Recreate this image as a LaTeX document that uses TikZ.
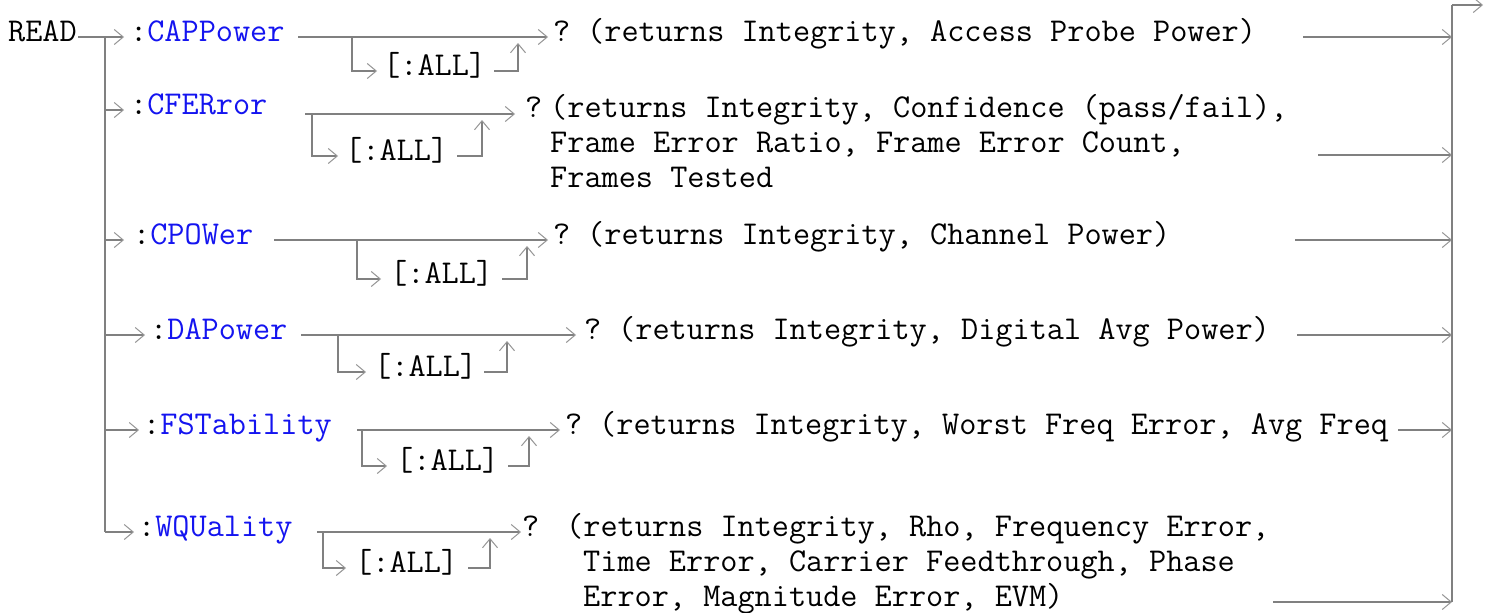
\documentclass[tikz,border=0pt]{standalone}
\usepackage{fontspec}
\usetikzlibrary{arrows.meta}
\definecolor{linegray}{RGB}{128,128,128}
\definecolor{tipgray}{RGB}{150,150,150}
\definecolor{cmdblue}{RGB}{20,20,240}
\tikzset{
  txt/.style={inner sep=0pt, anchor=base west, font=\fontsize{33.3}{39}\selectfont\ttfamily},
  conn/.style={draw=linegray, line width=1.8pt},
  arr/.style={conn, -{Straight Barb[length=9pt,width=15pt,line width=1pt,color=tipgray]}},
}
\newcommand{\cmdname}[1]{:{\color{cmdblue}#1}}
\begin{document}
\begin{tikzpicture}[x=1pt,y=-1pt]
\useasboundingbox (0,0) rectangle (1497,613);
\fill[white] (0,0) rectangle (1497,613);

% ---------- text nodes ----------
\node[txt] (read) at (8,41) {READ};

\node[txt] (c1) at (130,41) {\cmdname{CAPPower}};
\node[txt] (all1) at (383,75) {[:ALL]};
\node[txt] (q1) at (553,41) {?};
\node[txt] (d1) at (587,41) {(returns Integrity, Access Probe Power)};

\node[txt] (c2) at (130,114) {\cmdname{CFERror}};
\node[txt] (all2) at (345,160) {[:ALL]};
\node[txt] (q2) at (525,117) {?};
\node[txt] (d2a) at (550,117) {(returns Integrity, Confidence (pass/fail),};
\node[txt] (d2b) at (550,152) {Frame Error Ratio, Frame Error Count,};
\node[txt] (d2c) at (550,187) {Frames Tested};

\node[txt] (c3) at (133,244) {\cmdname{CPOWer}};
\node[txt] (all3) at (390,283) {[:ALL]};
\node[txt] (q3) at (553,244) {?};
\node[txt] (d3) at (587,244) {(returns Integrity, Channel Power)};

\node[txt] (c4) at (150,339) {\cmdname{DAPower}};
\node[txt] (all4) at (374,376) {[:ALL]};
\node[txt] (q4) at (584,339) {?};
\node[txt] (d4) at (618,339) {(returns Integrity, Digital Avg Power)};

\node[txt] (c5) at (143,434) {\cmdname{FSTability}};
\node[txt] (all5) at (396,470) {[:ALL]};
\node[txt] (q5) at (565,434) {?};
\node[txt] (d5) at (599,434) {(returns Integrity, Worst Freq Error, Avg Freq};

\node[txt] (c6) at (138,536) {\cmdname{WQUality}};
\node[txt] (all6) at (355,572) {[:ALL]};
\node[txt] (q6) at (522,536) {?};
\node[txt] (d6a) at (566,536) {(returns Integrity, Rho, Frequency Error,};
\node[txt] (d6b) at (583,571) {Time Error, Carrier Feedthrough, Phase};
\node[txt] (d6c) at (583,606) {Error, Magnitude Error, EVM)};

% ---------- coordinates ----------
% left trunk
\coordinate (r0) at (78,37);
\coordinate (b1) at (105,37);
\coordinate (b2) at (105,110);
\coordinate (b3) at (105,240);
\coordinate (b4) at (105,335);
\coordinate (b5) at (105,430);
\coordinate (b6) at (105,532);
% right trunk
\coordinate (rt) at (1452,5);
\coordinate (rb) at (1452,602);
\coordinate (out) at (1483,5);

% row 1
\coordinate (a1) at (124,37);
\coordinate (m1s) at (298,37);
\coordinate (j1) at (352,37);
\coordinate (j1d) at (352,71);
\coordinate (o1) at (377,71);
\coordinate (k1s) at (494,71);
\coordinate (k1c) at (518,71);
\coordinate (k1e) at (518,43);
\coordinate (m1e) at (548,37);
\coordinate (e1s) at (1303,37);
\coordinate (e1) at (1452,37);
% row 2
\coordinate (a2) at (124,110);
\coordinate (m2s) at (305,114);
\coordinate (j2) at (312,114);
\coordinate (j2d) at (312,156);
\coordinate (o2) at (338,156);
\coordinate (k2s) at (457,156);
\coordinate (k2c) at (482,156);
\coordinate (k2e) at (482,120);
\coordinate (m2e) at (515,114);
\coordinate (e2s) at (1318,155);
\coordinate (e2) at (1452,155);
% row 3
\coordinate (a3) at (124,240);
\coordinate (m3s) at (274,240);
\coordinate (j3) at (357,240);
\coordinate (j3d) at (357,279);
\coordinate (o3) at (381,279);
\coordinate (k3s) at (502,279);
\coordinate (k3c) at (527,279);
\coordinate (k3e) at (527,246);
\coordinate (m3e) at (548,240);
\coordinate (e3s) at (1295,240);
\coordinate (e3) at (1452,240);
% row 4
\coordinate (a4) at (145,335);
\coordinate (m4s) at (301,335);
\coordinate (j4) at (338,335);
\coordinate (j4d) at (338,372);
\coordinate (o4) at (366,372);
\coordinate (k4s) at (484,372);
\coordinate (k4c) at (507,372);
\coordinate (k4e) at (507,341);
\coordinate (m4e) at (576,335);
\coordinate (e4s) at (1297,335);
\coordinate (e4) at (1452,335);
% row 5
\coordinate (a5) at (139,430);
\coordinate (m5s) at (357,430);
\coordinate (j5) at (362,430);
\coordinate (j5d) at (362,466);
\coordinate (o5) at (387,466);
\coordinate (k5s) at (508,466);
\coordinate (k5c) at (529,466);
\coordinate (k5e) at (529,436);
\coordinate (m5e) at (560,430);
\coordinate (e5s) at (1398,430);
\coordinate (e5) at (1452,430);
% row 6
\coordinate (a6) at (134,532);
\coordinate (m6s) at (317,532);
\coordinate (j6) at (323,532);
\coordinate (j6d) at (323,568);
\coordinate (o6) at (346,568);
\coordinate (k6s) at (468,568);
\coordinate (k6c) at (490,568);
\coordinate (k6e) at (490,538);
\coordinate (m6e) at (521,532);
\coordinate (e6s) at (1273,602);
\coordinate (e6) at (1452,602);

% ---------- connectors ----------
\draw[conn] (b1) -- (b6);
\draw[arr] (r0) -- (a1);
\draw[arr] (b2) -- (a2);
\draw[arr] (b3) -- (a3);
\draw[arr] (b4) -- (a4);
\draw[arr] (b5) -- (a5);
\draw[arr] (b6) -- (a6);

\foreach \i in {1,...,6}{
  \draw[arr] (m\i s) -- (m\i e);
  \draw[arr] (j\i) -- (j\i d) -- (o\i);
  \draw[arr] (k\i s) -- (k\i c) -- (k\i e);
  \draw[arr] (e\i s) -- (e\i);
}

\draw[conn] (rb) -- (rt);
\draw[arr] (rt) -- (out);
\end{tikzpicture}
\end{document}
